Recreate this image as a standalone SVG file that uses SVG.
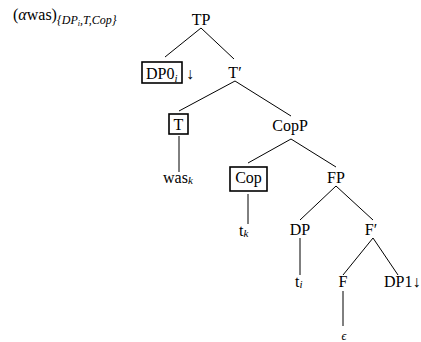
<svg xmlns="http://www.w3.org/2000/svg" width="421" height="342" viewBox="0 0 421 342">
<style>
.c{text-anchor:middle}
.box{fill:none;stroke:#000;stroke-width:1.6}
#edges line{stroke:#000;stroke-width:1}
</style>
<rect width="421" height="342" fill="#fff"/>
<text x="13" y="20" font-family="Times New Roman, serif" font-size="16">(<tspan font-style="italic">α</tspan>was)<tspan font-size="12" font-style="italic" dy="4">{DP</tspan><tspan font-size="8" font-style="italic" dy="2">i</tspan><tspan font-size="12" font-style="italic" dy="-2">,T,Cop}</tspan></text>
<g id="edges">
<line x1="201" y1="28" x2="165" y2="57"/>
<line x1="201" y1="28" x2="234" y2="59"/>
<line x1="235" y1="81" x2="179" y2="111"/>
<line x1="235" y1="81" x2="291" y2="116"/>
<line x1="179" y1="136" x2="179" y2="172"/>
<line x1="291" y1="139" x2="248" y2="163"/>
<line x1="291" y1="139" x2="336" y2="167"/>
<line x1="248" y1="194" x2="248" y2="224"/>
<line x1="336" y1="186" x2="300" y2="220"/>
<line x1="336" y1="186" x2="373" y2="220"/>
<line x1="300" y1="238" x2="300" y2="275"/>
<line x1="373" y1="238" x2="343" y2="275"/>
<line x1="373" y1="238" x2="398" y2="275"/>
<line x1="343" y1="291" x2="343" y2="326"/>
</g>
<g id="TP"><text class="c" x="201" y="25" font-family="Times New Roman, serif" font-size="16">TP</text></g>
<g id="DP0"><rect class="box" x="142" y="62" width="40" height="21"/><text x="146" y="79" font-family="Times New Roman, serif" font-size="16">DP0<tspan font-size="11" font-style="italic" dy="3">i</tspan></text><text x="186" y="79" font-family="Times New Roman, serif" font-size="16">↓</text></g>
<g id="Tbar"><text class="c" x="235" y="78" font-family="Times New Roman, serif" font-size="16">T′</text></g>
<g id="T"><rect class="box" x="169" y="114" width="19" height="20"/><text class="c" x="178.5" y="130" font-family="Times New Roman, serif" font-size="16">T</text></g>
<g id="CopP"><text class="c" x="290" y="131" font-family="Times New Roman, serif" font-size="16">CopP</text></g>
<g id="was"><text x="163" y="183" font-family="Times New Roman, serif" font-size="16">was<tspan font-size="11" font-style="italic" dy="1">k</tspan></text></g>
<g id="Cop"><rect class="box" x="230" y="167" width="37" height="24"/><text class="c" x="248.5" y="183" font-family="Times New Roman, serif" font-size="16">Cop</text></g>
<g id="FP"><text class="c" x="336" y="183" font-family="Times New Roman, serif" font-size="16">FP</text></g>
<g id="tk"><text x="239" y="236" font-family="Times New Roman, serif" font-size="16">t<tspan font-size="11" font-style="italic" dy="1">k</tspan></text></g>
<g id="DP"><text class="c" x="300" y="235" font-family="Times New Roman, serif" font-size="16">DP</text></g>
<g id="Fbar"><text class="c" x="371" y="235" font-family="Times New Roman, serif" font-size="16">F′</text></g>
<g id="ti"><text x="295" y="287" font-family="Times New Roman, serif" font-size="16">t<tspan font-size="11" font-style="italic" dy="1">i</tspan></text></g>
<g id="F"><text class="c" x="343" y="287" font-family="Times New Roman, serif" font-size="16">F</text></g>
<g id="DP1"><text x="384" y="287" font-family="Times New Roman, serif" font-size="16">DP1↓</text></g>
<g id="eps"><text class="c" x="344" y="340" font-family="Times New Roman, serif" font-size="12" font-style="italic">ϵ</text></g>
</svg>
